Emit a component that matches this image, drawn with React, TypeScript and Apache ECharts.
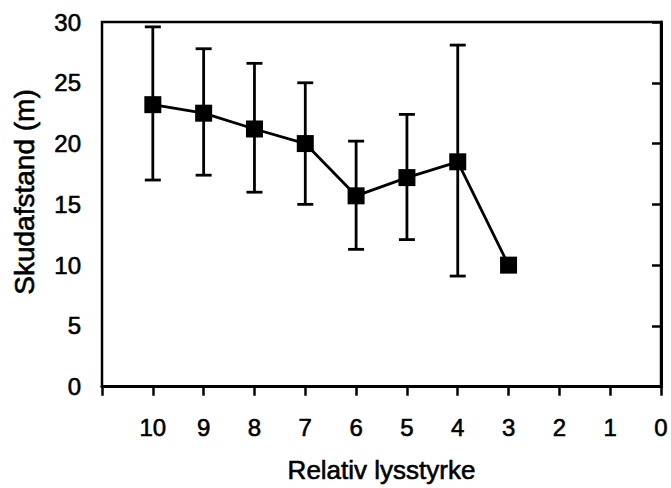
import React, { useEffect, useRef } from "react";
import * as echarts from "echarts";

const xValues = [10, 9, 8, 7, 6, 5, 4, 3];
const meanValues = [23.2, 22.5, 21.2, 20.0, 15.7, 17.2, 18.5, 10.0];
const lowValues = [17.0, 17.4, 16.0, 15.0, 11.3, 12.1, 9.1, null];
const highValues = [29.6, 27.8, 26.6, 25.0, 20.2, 22.4, 28.1, null];
const xTitle = "Relativ lysstyrke";
const yTitle = "Skudafstand (m)";

const FONT = "'Liberation Sans', Arial, Helvetica, sans-serif";
const THICK = { textBorderColor: "#000", textBorderWidth: 0.6 };

export default function App() {
  const ref = useRef<HTMLDivElement>(null);
  useEffect(() => {
    if (!ref.current) return;
    const chart = echarts.init(ref.current, undefined, { renderer: "svg" });
    const lineData = xValues.map((x, i) => [x, meanValues[i]]);
    const errData = xValues
      .map((x, i) => [x, lowValues[i], highValues[i]])
      .filter((d) => d[1] != null && d[2] != null);
    chart.setOption({
      animation: false,
      backgroundColor: "#fff",
      grid: {
        left: 102,
        right: 9,
        top: 22,
        bottom: 101,
        show: true,
        borderColor: "#000",
        borderWidth: 2.5,
      },
      xAxis: {
        type: "value",
        min: 0,
        max: 11,
        interval: 1,
        inverse: true,
        name: xTitle,
        nameLocation: "middle",
        nameGap: 70,
        nameTextStyle: { fontFamily: FONT, fontSize: 26, color: "#000", ...THICK },
        axisLine: { show: true, onZero: false, lineStyle: { color: "#000", width: 3 } },
        axisTick: { show: true, length: 9, lineStyle: { color: "#000", width: 2.5 } },
        axisLabel: {
          fontFamily: FONT,
          fontSize: 24,
          color: "#000",
          margin: 29,
          ...THICK,
          formatter: (v: number) => (v === 11 ? "" : String(v)),
        },
        splitLine: { show: false },
      },
      yAxis: {
        type: "value",
        min: 0,
        max: 30,
        interval: 5,
        axisLine: { show: true, lineStyle: { color: "#000", width: 3 } },
        axisTick: { show: true, length: 9, lineStyle: { color: "#000", width: 2.5 } },
        axisLabel: { fontFamily: FONT, fontSize: 24, color: "#000", margin: 21, ...THICK },
        splitLine: { show: false },
      },
      graphic: [
        {
          type: "text",
          x: 24,
          y: 192,
          rotation: Math.PI / 2,
          style: {
            text: yTitle,
            fontFamily: FONT,
            fontSize: 28,
            fill: "#000",
            stroke: "#000",
            lineWidth: 0.6,
            align: "center",
            verticalAlign: "middle",
          },
        },
      ],
      series: [
        {
          type: "custom",
          data: errData,
          z: 1,
          renderItem: (params: any, api: any) => {
            const x = api.value(0);
            const lo = api.coord([x, api.value(1)]);
            const hi = api.coord([x, api.value(2)]);
            const cw = 8;
            const style = { stroke: "#000", lineWidth: 2.8 };
            return {
              type: "group",
              children: [
                { type: "line", shape: { x1: lo[0], y1: lo[1], x2: hi[0], y2: hi[1] }, style },
                { type: "line", shape: { x1: hi[0] - cw, y1: hi[1], x2: hi[0] + cw, y2: hi[1] }, style },
                { type: "line", shape: { x1: lo[0] - cw, y1: lo[1], x2: lo[0] + cw, y2: lo[1] }, style },
              ],
            };
          },
        },
        {
          type: "line",
          data: lineData,
          z: 3,
          symbol: "rect",
          symbolSize: 17,
          itemStyle: { color: "#000" },
          lineStyle: { color: "#000", width: 2.8 },
        },
      ],
    });
    return () => chart.dispose();
  }, []);
  return <div ref={ref} style={{ width: 671, height: 488, position: "absolute", left: 0, top: 0 }} />;
}
